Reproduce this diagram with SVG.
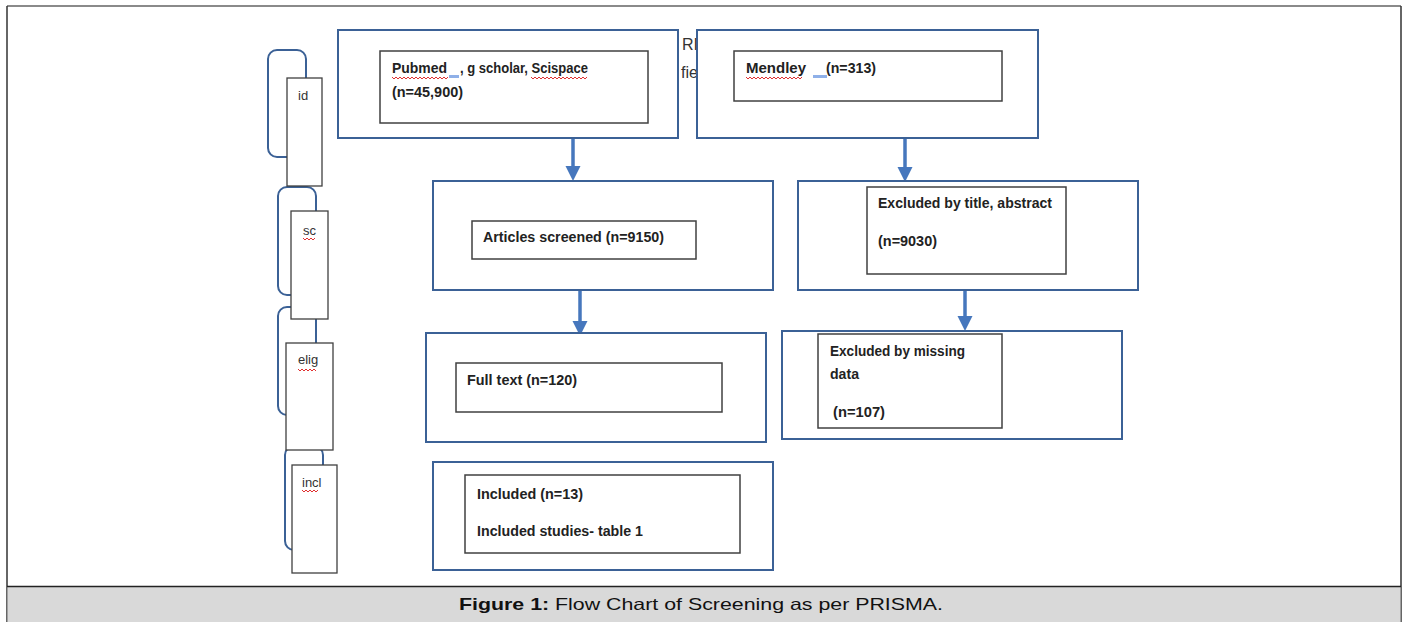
<svg xmlns="http://www.w3.org/2000/svg" width="1404" height="623" viewBox="0 0 1404 623">
<defs>
<style>
.outer{fill:#fff;stroke:#3b6196;stroke-width:2}
.inner{fill:#fff;stroke:#404040;stroke-width:1.5}
.brk{fill:none;stroke:#3b6196;stroke-width:2}
.side{fill:#fff;stroke:#404040;stroke-width:1.3}
.t{font-family:"Liberation Sans",Arial,sans-serif;font-weight:bold;font-size:14px;fill:#222}
.s{font-family:"Liberation Sans",Arial,sans-serif;font-size:13px;fill:#333}
.bg{font-family:"Liberation Sans",Arial,sans-serif;font-size:16px;fill:#333}
.arr{stroke:#4677bd;stroke-width:3.5;fill:none}
.sq{fill:none;stroke:#e03030;stroke-width:1}
.hl{fill:#8fb0e8}
</style>
<marker id="ah" viewBox="0 0 10 10" refX="0" refY="5" markerWidth="4.3" markerHeight="4.3" orient="auto" markerUnits="strokeWidth">
<path d="M0,0 L10,5 L0,10 Z" fill="#4677bd"/>
</marker>
</defs>
<rect x="0" y="0" width="1404" height="623" fill="#fff"/>
<line x1="7" y1="6" x2="1401" y2="6" stroke="#8a8a8a" stroke-width="2"/>
<line x1="7" y1="6" x2="7" y2="622" stroke="#333" stroke-width="1.5"/>
<line x1="1401" y1="6" x2="1401" y2="622" stroke="#333" stroke-width="1.5"/>
<rect x="7.5" y="587" width="1393" height="35" fill="#d9d9d9"/>
<line x1="7" y1="586.5" x2="1401" y2="586.5" stroke="#222" stroke-width="1.5"/>
<text x="701" y="610" text-anchor="middle" font-family="'Liberation Sans',Arial,sans-serif" font-size="16.5" fill="#111" textLength="484" lengthAdjust="spacingAndGlyphs"><tspan font-weight="bold">Figure 1:</tspan> Flow Chart of Screening as per PRISMA.</text>

<g id="brackets">
<rect class="brk" x="268" y="50" width="38" height="107" rx="9"/>
<rect class="brk" x="278" y="187" width="38" height="108" rx="9"/>
<rect class="brk" x="278" y="307" width="38" height="108" rx="9"/>
<rect class="brk" x="285" y="446" width="38" height="104" rx="9"/>
</g>
<g id="stage-id">
<rect class="side" x="287" y="78" width="35" height="108"/>
<text class="s" x="298" y="100">id</text>
</g>
<g id="stage-sc">
<rect class="side" x="291" y="211" width="37" height="108"/>
<text class="s" x="303" y="235">sc</text>
<path class="sq" d="M303,238 l2,2 l2,-2 l2,2 l2,-2 l2,2 l2,-2"/>
</g>
<g id="stage-elig">
<rect class="side" x="286" y="343" width="47" height="107"/>
<text class="s" x="298" y="364">elig</text>
<path class="sq" d="M298,369 l2,2 l2,-2 l2,2 l2,-2 l2,2 l2,-2 l2,2 l2,-2 l2,2"/>
</g>
<g id="stage-incl">
<rect class="side" x="292" y="465" width="45" height="108"/>
<text class="s" x="302" y="487">incl</text>
<path class="sq" d="M302,490 l2,2 l2,-2 l2,2 l2,-2 l2,2 l2,-2 l2,2 l2,-2"/>
</g>

<text class="bg" x="682" y="50">RIS</text>
<text class="bg" x="681" y="78">fie</text>

<g id="connectors">
<line class="arr" x1="573" y1="139" x2="573" y2="166" marker-end="url(#ah)"/>
<line class="arr" x1="905" y1="139" x2="905" y2="167" marker-end="url(#ah)"/>
<line class="arr" x1="580" y1="291" x2="580" y2="321" marker-end="url(#ah)"/>
<line class="arr" x1="965" y1="291" x2="965" y2="316" marker-end="url(#ah)"/>
</g>

<g id="node-pubmed">
<rect class="outer" x="338" y="30" width="340" height="108"/>
<rect class="inner" x="380" y="51" width="268" height="72"/>
<text class="t" x="392" y="73" textLength="55" lengthAdjust="spacingAndGlyphs">Pubmed</text>
<text class="t" x="460" y="73" textLength="128" lengthAdjust="spacingAndGlyphs">, g scholar, Scispace</text>
<rect class="hl" x="449" y="75" width="10" height="3"/>
<path class="sq" d="M392,77 l2,2 l2,-2 l2,2 l2,-2 l2,2 l2,-2 l2,2 l2,-2 l2,2 l2,-2 l2,2 l2,-2 l2,2 l2,-2 l2,2 l2,-2 l2,2 l2,-2 l2,2 l2,-2 l2,2 l2,-2 l2,2 l2,-2 l2,2 l2,-2 l2,2 l2,-2"/>
<path class="sq" d="M531,77 l2,2 l2,-2 l2,2 l2,-2 l2,2 l2,-2 l2,2 l2,-2 l2,2 l2,-2 l2,2 l2,-2 l2,2 l2,-2 l2,2 l2,-2 l2,2 l2,-2 l2,2 l2,-2 l2,2 l2,-2 l2,2 l2,-2 l2,2 l2,-2 l2,2 l2,-2"/>
<text class="t" x="392" y="97" textLength="71" lengthAdjust="spacingAndGlyphs">(n=45,900)</text>
</g>
<g id="node-mendley">
<rect class="outer" x="697" y="30" width="341" height="108"/>
<rect class="inner" x="734" y="51" width="268" height="50"/>
<text class="t" x="746" y="73" textLength="60" lengthAdjust="spacingAndGlyphs">Mendley</text>
<text class="t" x="826" y="73" textLength="50" lengthAdjust="spacingAndGlyphs">(n=313)</text>
<rect class="hl" x="813" y="75" width="14" height="3"/>
<path class="sq" d="M746,77 l2,2 l2,-2 l2,2 l2,-2 l2,2 l2,-2 l2,2 l2,-2 l2,2 l2,-2 l2,2 l2,-2 l2,2 l2,-2 l2,2 l2,-2 l2,2 l2,-2 l2,2 l2,-2 l2,2 l2,-2 l2,2 l2,-2 l2,2 l2,-2 l2,2 l2,-2"/>
</g>
<g id="node-screened">
<rect class="outer" x="433" y="181" width="340" height="109"/>
<rect class="inner" x="472" y="221" width="224" height="38"/>
<text class="t" x="483" y="242" textLength="181" lengthAdjust="spacingAndGlyphs">Articles screened (n=9150)</text>
</g>
<g id="node-excl-title">
<rect class="outer" x="798" y="181" width="340" height="109"/>
<rect class="inner" x="867" y="187" width="199" height="87"/>
<text class="t" x="878" y="208" textLength="174" lengthAdjust="spacingAndGlyphs">Excluded by title, abstract</text>
<text class="t" x="878" y="246" textLength="59" lengthAdjust="spacingAndGlyphs">(n=9030)</text>
</g>
<g id="node-fulltext">
<rect class="outer" x="426" y="333" width="340" height="109"/>
<rect class="inner" x="456" y="363" width="266" height="49"/>
<text class="t" x="467" y="385" textLength="110" lengthAdjust="spacingAndGlyphs">Full text (n=120)</text>
</g>
<g id="node-excl-missing">
<rect class="outer" x="782" y="331" width="340" height="108"/>
<rect class="inner" x="818" y="334" width="184" height="94"/>
<text class="t" x="830" y="356" textLength="135" lengthAdjust="spacingAndGlyphs">Excluded by missing</text>
<text class="t" x="830" y="379" textLength="29" lengthAdjust="spacingAndGlyphs">data</text>
<text class="t" x="833" y="417" textLength="52" lengthAdjust="spacingAndGlyphs">(n=107)</text>
</g>
<g id="node-included">
<rect class="outer" x="433" y="462" width="340" height="108"/>
<rect class="inner" x="465" y="475" width="275" height="78"/>
<text class="t" x="477" y="499" textLength="106" lengthAdjust="spacingAndGlyphs">Included (n=13)</text>
<text class="t" x="477" y="536" textLength="166" lengthAdjust="spacingAndGlyphs">Included studies- table 1</text>
</g>
</svg>
